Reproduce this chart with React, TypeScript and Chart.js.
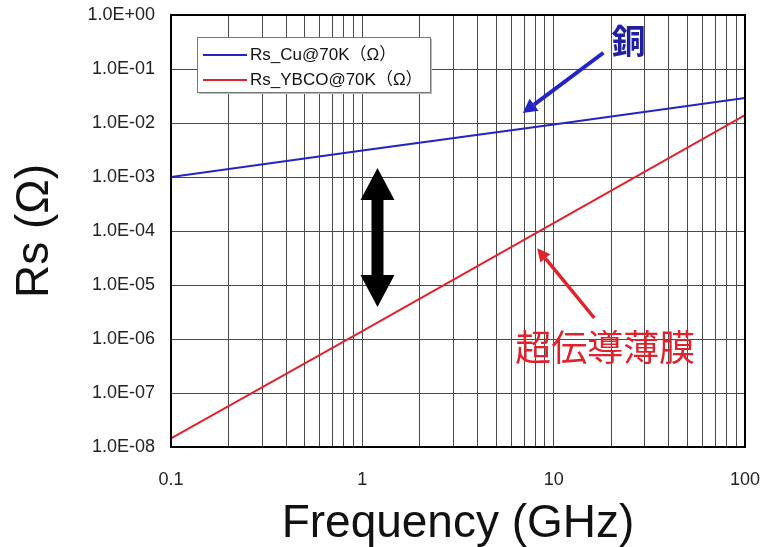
import React, { useEffect, useRef } from 'react';
import { Chart, registerables } from 'chart.js';

Chart.register(...registerables);

// ---- data ----
const freqGHz = [0.1, 1, 10, 100];
const rsCu = [0.001, 0.0031, 0.0094, 0.029];
const rsYbco = [1.45e-8, 1.4e-6, 1.4e-4, 1.4e-2];
const seriesLabels = ['Rs_Cu@70K（Ω）', 'Rs_YBCO@70K（Ω）'];
const xGridTicks = [
  0.1, 0.2, 0.3, 0.4, 0.5, 0.6, 0.7, 0.8, 0.9,
  1, 2, 3, 4, 5, 6, 7, 8, 9,
  10, 20, 30, 40, 50, 60, 70, 80, 90, 100,
];
const xLabelTicks = [0.1, 1, 10, 100];
const xTickLabels = ['0.1', '1', '10', '100'];
const yTicks = [1e-8, 1e-7, 1e-6, 1e-5, 1e-4, 1e-3, 1e-2, 1e-1, 1];
const yTickLabels = ['1.0E-08', '1.0E-07', '1.0E-06', '1.0E-05', '1.0E-04', '1.0E-03', '1.0E-02', '1.0E-01', '1.0E+00'];
const xTitle = 'Frequency (GHz)';
const yTitle = 'Rs (Ω)';
const cuNote = '銅';
const scNote = '超伝導薄膜';

// annotation anchors in data coordinates [freq, Rs]
const cuArrow = { from: [18.2, 0.2], to: [6.9, 0.0153] };
const cuNotePos = [24.6, 0.33];
const scArrow = { from: [16.3, 2.45e-6], to: [8.2, 4.8e-5] };
const scNotePos = [18.6, 7.1e-7];
const gapArrow = { x: 1.2, top: 1.47e-3, bottom: 3.9e-6 };

const BLUE = '#2323c8';
const RED = '#e0222c';
const FONT = '"Liberation Sans", Arial, "Noto Sans CJK JP", sans-serif';
const JFONT = '"Noto Sans CJK JP", sans-serif';

function arrow(ctx: CanvasRenderingContext2D, x1: number, y1: number, x2: number, y2: number, color: string, lw: number, hl: number, hw: number) {
  const ang = Math.atan2(y2 - y1, x2 - x1);
  const bx = x2 - Math.cos(ang) * hl;
  const by = y2 - Math.sin(ang) * hl;
  ctx.save();
  ctx.strokeStyle = color;
  ctx.fillStyle = color;
  ctx.lineWidth = lw;
  ctx.beginPath();
  ctx.moveTo(x1, y1);
  ctx.lineTo(bx, by);
  ctx.stroke();
  ctx.beginPath();
  ctx.moveTo(x2, y2);
  ctx.lineTo(bx + Math.sin(ang) * hw / 2, by - Math.cos(ang) * hw / 2);
  ctx.lineTo(bx - Math.sin(ang) * hw / 2, by + Math.cos(ang) * hw / 2);
  ctx.closePath();
  ctx.fill();
  ctx.restore();
}

const decorPlugin = {
  id: 'decor',
  afterDraw(chart: any) {
    const { ctx, chartArea: ca, scales } = chart;
    const xs = scales.x;
    const ys = scales.y;
    const px = (v: number) => xs.getPixelForValue(v);
    const py = (v: number) => ys.getPixelForValue(v);

    // frame
    ctx.save();
    ctx.strokeStyle = '#000';
    ctx.lineWidth = 2;
    ctx.strokeRect(ca.left, ca.top, ca.right - ca.left, ca.bottom - ca.top);
    ctx.restore();

    // legend box
    const lx = ca.left + 26;
    const ly = ca.top + 22;
    const lw = 233;
    const lh = 55;
    ctx.save();
    ctx.fillStyle = '#bbb';
    ctx.fillRect(lx + 2, ly + 2, lw, lh);
    ctx.fillStyle = '#fff';
    ctx.fillRect(lx, ly, lw, lh);
    ctx.strokeStyle = '#777';
    ctx.lineWidth = 1;
    ctx.strokeRect(lx + 0.5, ly + 0.5, lw, lh);
    const colors = [BLUE, RED];
    ctx.font = `17px ${FONT}`;
    ctx.textBaseline = 'middle';
    seriesLabels.forEach((lab, i) => {
      const yy = ly + 18 + i * 25;
      ctx.strokeStyle = colors[i];
      ctx.lineWidth = 2;
      ctx.beginPath();
      ctx.moveTo(lx + 6, yy);
      ctx.lineTo(lx + 50, yy);
      ctx.stroke();
      ctx.fillStyle = '#111';
      ctx.fillText(lab, lx + 53, yy);
    });
    ctx.restore();

    // copper note + arrow
    arrow(ctx, px(cuArrow.from[0]), py(cuArrow.from[1]), px(cuArrow.to[0]), py(cuArrow.to[1]), BLUE, 4, 14, 15);
    ctx.save();
    ctx.fillStyle = '#1f1fa0';
    ctx.font = `bold 34px ${JFONT}`;
    ctx.textAlign = 'center';
    ctx.textBaseline = 'middle';
    ctx.fillText(cuNote, px(cuNotePos[0]), py(cuNotePos[1]));
    ctx.restore();

    // superconductor note + arrow
    arrow(ctx, px(scArrow.from[0]), py(scArrow.from[1]), px(scArrow.to[0]), py(scArrow.to[1]), RED, 3.5, 13, 13);
    ctx.save();
    ctx.fillStyle = RED;
    ctx.font = `36px ${JFONT}`;
    ctx.textAlign = 'center';
    ctx.textBaseline = 'middle';
    ctx.fillText(scNote, px(scNotePos[0]), py(scNotePos[1]));
    ctx.restore();

    // black double arrow
    const gx = px(gapArrow.x);
    const gt = py(gapArrow.top);
    const gb = py(gapArrow.bottom);
    const hw = 17, sw = 6, hl = 32;
    ctx.save();
    ctx.fillStyle = '#000';
    ctx.beginPath();
    ctx.moveTo(gx, gt);
    ctx.lineTo(gx + hw, gt + hl);
    ctx.lineTo(gx + sw, gt + hl);
    ctx.lineTo(gx + sw, gb - hl);
    ctx.lineTo(gx + hw, gb - hl);
    ctx.lineTo(gx, gb);
    ctx.lineTo(gx - hw, gb - hl);
    ctx.lineTo(gx - sw, gb - hl);
    ctx.lineTo(gx - sw, gt + hl);
    ctx.lineTo(gx - hw, gt + hl);
    ctx.closePath();
    ctx.fill();
    ctx.restore();
  },
};

const near = (a: number, b: number) => Math.abs(Math.log10(a) - Math.log10(b)) < 1e-6;

export default function App() {
  const ref = useRef<HTMLCanvasElement>(null);
  useEffect(() => {
    if (!ref.current) return;
    Chart.defaults.font.family = FONT;
    const chart = new Chart(ref.current, {
      type: 'line',
      data: {
        datasets: [
          {
            label: seriesLabels[0],
            data: freqGHz.map((f, i) => ({ x: f, y: rsCu[i] })),
            borderColor: BLUE,
            borderWidth: 2,
            pointRadius: 0,
            tension: 0,
          },
          {
            label: seriesLabels[1],
            data: freqGHz.map((f, i) => ({ x: f, y: rsYbco[i] })),
            borderColor: RED,
            borderWidth: 2,
            pointRadius: 0,
            tension: 0,
          },
        ],
      },
      options: {
        responsive: false,
        animation: false,
        layout: { padding: { left: 0, top: 15, right: 16, bottom: 0 } },
        plugins: { legend: { display: false }, tooltip: { enabled: false } },
        scales: {
          x: {
            type: 'logarithmic',
            min: 0.1,
            max: 100,
            afterBuildTicks: (s: any) => {
              s.ticks = xGridTicks.map((v) => ({ value: v }));
            },
            afterFit: (s: any) => {
              s.height = 100;
              s.paddingLeft = 0;
              s.paddingRight = 0;
            },
            ticks: {
              autoSkip: false,
              maxRotation: 0,
              padding: 22,
              color: '#222',
              font: { size: 18 },
              callback: (v: any) => {
                const idx = xLabelTicks.findIndex((t) => near(t, Number(v)));
                return idx >= 0 ? xTickLabels[idx] : '';
              },
            },
            grid: { color: '#4a4a4a', lineWidth: 1, drawTicks: false },
            border: { display: true, color: '#000', width: 2 },
            title: {
              display: true,
              text: xTitle,
              color: '#111',
              font: { size: 46, lineHeight: 1 },
              padding: { top: 4, bottom: 0 },
            },
          },
          y: {
            type: 'logarithmic',
            min: 1e-8,
            max: 1,
            afterBuildTicks: (s: any) => {
              s.ticks = yTicks.map((v) => ({ value: v }));
            },
            afterFit: (s: any) => {
              s.width = 171;
              s.paddingTop = 0;
              s.paddingBottom = 0;
            },
            ticks: {
              autoSkip: false,
              padding: 16,
              color: '#222',
              font: { size: 18 },
              callback: (v: any) => {
                const idx = yTicks.findIndex((t) => near(t, Number(v)));
                return idx >= 0 ? yTickLabels[idx] : '';
              },
            },
            grid: { color: '#4a4a4a', lineWidth: 1, drawTicks: false },
            border: { display: true, color: '#000', width: 2 },
            title: {
              display: true,
              text: yTitle,
              color: '#111',
              font: { size: 46, lineHeight: 1 },
              padding: { top: 12, bottom: 0 },
            },
          },
        },
      },
      plugins: [decorPlugin],
    } as any);
    return () => chart.destroy();
  }, []);
  return (
    <div style={{ position: 'fixed', left: 0, top: 0, width: 761, height: 547, background: '#fff' }}>
      <canvas ref={ref} width={761} height={547} style={{ width: 761, height: 547, display: 'block' }} />
    </div>
  );
}
